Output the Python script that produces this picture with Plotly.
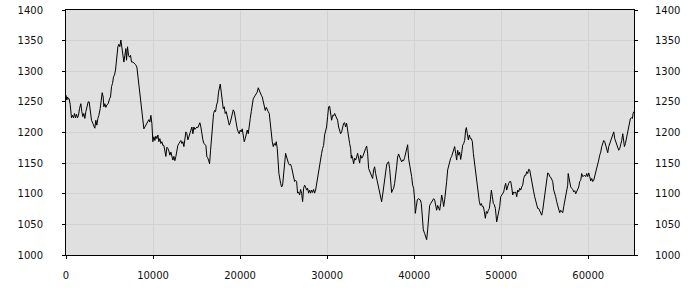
import plotly.graph_objects as go

# ---- data ----
sample_x = [
    0, 96, 173, 249, 364, 479, 632, 747, 862, 977, 1092, 1207, 1322, 1437, 1552, 1705, 1820, 1935, 2050, 2165,
    2280, 2395, 2548, 2663, 2778, 2931, 3084, 3199, 3314, 3429, 3544, 3659, 3774, 3927, 4042, 4157, 4272, 4349,
    4464, 4579, 4694, 4847, 5000, 5115, 5230, 5345, 5460, 5575, 5690, 5766, 5843, 5958, 6073, 6188, 6303, 6418,
    6533, 6648, 6763, 6878, 6954, 7069, 7184, 7299, 7414, 7529, 7682, 7835, 7988,
    8142, 8257, 8372, 8487, 8602, 8717, 8832, 8947, 9062, 9177, 9292, 9406, 9521, 9636, 9751, 9866, 9981, 10096,
    10211, 10326, 10441, 10556, 10671, 10786, 10901, 11016, 11130, 11245, 11360, 11475, 11590, 11705, 11820,
    11935, 12050, 12165, 12280, 12395, 12510, 12625, 12740, 12854, 12969, 13084, 13199, 13314, 13429, 13544,
    13659, 13774, 13889, 14004, 14119, 14234, 14349, 14464, 14578, 14693, 14808, 14923, 15038, 15153, 15268,
    15383, 15498, 15613, 15728, 15843, 15958, 16073, 16188,
    16265, 16380, 16495, 16610, 16725, 16840, 16955, 17070, 17184, 17299, 17414, 17529, 17644, 17721, 17836,
    17951, 18066, 18181, 18295, 18410, 18525, 18640, 18755, 18870, 18985, 19100, 19215, 19330, 19445, 19560,
    19675, 19789, 19904, 20019, 20134, 20249, 20364, 20479, 20594, 20709, 20824, 20939, 21054, 21169, 21284,
    21398, 21513, 21628, 21743, 21858, 21973, 22088, 22203, 22318, 22433, 22548, 22663, 22778, 22893, 23008,
    23123, 23238, 23352, 23467, 23582, 23697, 23812, 23927, 24042, 24157, 24272, 24387, 24463,
    24656, 24771, 24886, 25001, 25116, 25231, 25346, 25461, 25575, 25690, 25805, 25920, 26035, 26150, 26265,
    26380, 26495, 26610, 26725, 26840, 26955, 27070, 27185, 27300, 27414, 27529, 27644, 27759, 27874, 27989,
    28104, 28219, 28334, 28449, 28564, 28679, 28794, 28909, 29024, 29139, 29253, 29368, 29483, 29598, 29713,
    29828, 29943, 30058, 30173, 30288, 30403, 30518, 30633, 30748, 30863, 30978, 31092, 31207, 31322, 31437,
    31552, 31667, 31782, 31897, 32012, 32127, 32242, 32357, 32472, 32587, 32702, 32778,
    32817, 32932, 33047, 33162, 33277, 33392, 33507, 33621, 33736, 33851, 33966, 34081, 34196, 34311, 34426,
    34541, 34656, 34771, 34886, 35001, 35116, 35231, 35346, 35460, 35575, 35690, 35805, 35920, 36035, 36150,
    36265, 36380, 36495, 36610, 36725, 36840, 36954, 37069, 37184, 37299, 37414, 37529, 37644, 37759, 37874,
    37989, 38104, 38219, 38334, 38449, 38564, 38679, 38793, 38908, 39023, 39138, 39253, 39368, 39483, 39598,
    39713, 39828, 39943, 40058, 40134, 40249, 40364, 40479, 40594, 40709, 40824, 40939, 41054,
    41208, 41323, 41438, 41553, 41668, 41783, 41897, 42012, 42127, 42242, 42357, 42472, 42587, 42702, 42817,
    42932, 43047, 43162, 43277, 43392, 43507, 43622, 43736, 43851, 43966, 44081, 44196, 44311, 44426, 44541,
    44656, 44771, 44886, 45001, 45116, 45231, 45346, 45460, 45575, 45690, 45805, 45920, 45997, 46112, 46227,
    46342, 46457, 46572, 46687, 46802, 46917, 47032, 47147, 47262, 47377, 47492, 47606, 47721, 47836, 47951,
    48066, 48181, 48296, 48411, 48526, 48641, 48756, 48871, 48986, 49101, 49216, 49331,
    49484, 49599, 49714, 49829, 49944, 50059, 50174, 50289, 50404, 50518, 50633, 50748, 50863, 50978, 51093,
    51208, 51323, 51438, 51553, 51668, 51783, 51898, 52013, 52127, 52242, 52357, 52472, 52587, 52702, 52817,
    52932, 53047, 53162, 53277, 53392, 53507, 53622, 53737, 53852, 53966, 54081, 54196, 54311, 54426, 54541,
    54656, 54771, 54886, 55001, 55116, 55231, 55346, 55461, 55575, 55690, 55805, 55920, 56035, 56150, 56265,
    56380, 56495, 56610, 56725, 56840, 56955, 57070, 57185, 57300, 57414, 57529, 57644,
    57700, 57760, 57875, 57990, 58105, 58220, 58335, 58450, 58564, 58679, 58794, 58909, 59024, 59139, 59254,
    59369, 59484, 59599, 59714, 59829, 59944, 60059, 60174, 60289, 60403, 60518, 60633, 60748, 60863, 60978,
    61093, 61208, 61323, 61438, 61553, 61668, 61783, 61898, 62013, 62128, 62243, 62357, 62472, 62587, 62702,
    62817, 62932, 63047, 63162, 63277, 63392, 63507, 63622, 63737, 63852, 63967, 64043, 64158, 64273, 64388,
    64503, 64618, 64733, 64848, 64963, 65078, 65154, 65230,
]

sample_y = [
    1261, 1253, 1258, 1255, 1255, 1246, 1224, 1228, 1224, 1231, 1224, 1230, 1224, 1228, 1239, 1247, 1234, 1226, 1231, 1223,
    1234, 1242, 1250, 1250, 1231, 1220, 1215, 1210, 1207, 1220, 1212, 1223, 1228, 1239, 1250, 1265, 1258, 1242,
    1247, 1241, 1245, 1247, 1255, 1258, 1275, 1280, 1291, 1294, 1302, 1313, 1335, 1340, 1344, 1340, 1351, 1337,
    1332, 1315, 1326, 1337, 1318, 1340, 1326, 1323, 1326, 1315, 1315, 1313, 1311,
    1307, 1291, 1274, 1266, 1250, 1234, 1220, 1206, 1209, 1212, 1217, 1220, 1221, 1217, 1228, 1215, 1185, 1193,
    1187, 1194, 1190, 1196, 1185, 1190, 1182, 1185, 1179, 1179, 1171, 1161, 1176, 1174, 1170,
    1163, 1168, 1160, 1155, 1161, 1154, 1161, 1171, 1179, 1182, 1185, 1187, 1182, 1185, 1177,
    1193, 1201, 1198, 1188, 1193, 1198, 1204, 1209, 1198, 1209, 1205, 1207, 1209, 1208, 1212,
    1216, 1209, 1194, 1188, 1182, 1181, 1179, 1160,
    1159, 1155, 1149, 1171, 1193, 1206, 1231, 1236, 1234, 1245, 1250, 1266, 1275, 1279, 1266,
    1250, 1239, 1242, 1231, 1234, 1227, 1220, 1212, 1216, 1223, 1231, 1237, 1234, 1223, 1220,
    1206, 1201, 1198, 1204, 1201, 1206, 1194, 1185, 1190, 1198, 1204, 1198, 1215, 1223, 1234,
    1250, 1255, 1258, 1261, 1264, 1266, 1273, 1268, 1265, 1261, 1258, 1250, 1239, 1236, 1241,
    1236, 1234, 1231, 1212, 1196, 1185, 1177, 1182, 1179, 1185, 1174, 1149, 1133,
    1117, 1111, 1114, 1128, 1144, 1166, 1160, 1152, 1149, 1147, 1148, 1143, 1136, 1125, 1120,
    1122, 1120, 1101, 1103, 1098, 1107, 1101, 1087, 1109, 1114, 1111, 1106, 1109, 1101, 1106,
    1101, 1106, 1102, 1107, 1101, 1106, 1117, 1122, 1139, 1144, 1158, 1166, 1174, 1179, 1196,
    1201, 1209, 1226, 1242, 1243, 1234, 1220, 1228, 1227, 1231, 1228, 1225, 1220, 1209, 1201,
    1198, 1201, 1212, 1215, 1216, 1209, 1215, 1201, 1193, 1182, 1174, 1158,
    1163, 1158, 1149, 1158, 1155, 1160, 1166, 1158, 1150, 1163, 1158, 1160, 1166, 1170, 1174,
    1178, 1166, 1141, 1136, 1133, 1130, 1125, 1139, 1144, 1133, 1125, 1122, 1111, 1101, 1092,
    1087, 1098, 1111, 1128, 1139, 1147, 1151, 1152, 1141, 1111, 1102, 1106, 1109, 1117, 1128,
    1144, 1160, 1165, 1160, 1155, 1152, 1155, 1154, 1159, 1168, 1177, 1180, 1157, 1149, 1139,
    1128, 1114, 1109, 1090, 1068, 1079, 1090, 1092, 1091, 1090, 1084, 1054, 1041,
    1035, 1027, 1025, 1041, 1057, 1081, 1084, 1087, 1089, 1092, 1090, 1081, 1073, 1081, 1076,
    1073, 1084, 1098, 1090, 1079, 1090, 1103, 1120, 1139, 1147, 1151, 1158, 1161, 1166, 1171,
    1177, 1166, 1155, 1171, 1163, 1168, 1156, 1166, 1179, 1182, 1187, 1204, 1208, 1198, 1188,
    1196, 1190, 1190, 1185, 1166, 1152, 1139, 1128, 1117, 1101, 1087, 1081, 1084, 1079, 1079,
    1071, 1060, 1071, 1068, 1073, 1076, 1090, 1106, 1095, 1084, 1082, 1076,
    1054, 1062, 1065, 1079, 1095, 1098, 1101, 1103, 1111, 1117, 1106, 1114, 1117, 1120, 1120,
    1111, 1098, 1103, 1101, 1103, 1095, 1106, 1103, 1109, 1106, 1111, 1114, 1125, 1130, 1130,
    1136, 1133, 1140, 1139, 1128, 1120, 1111, 1103, 1095, 1087, 1079, 1076, 1076, 1073, 1069,
    1065, 1073, 1084, 1098, 1111, 1125, 1134, 1133, 1128, 1127, 1122, 1120, 1106, 1101, 1095,
    1087, 1079, 1073, 1069, 1073, 1071, 1069, 1079, 1087, 1092, 1101, 1114,
    1133, 1128, 1117, 1111, 1109, 1107, 1103, 1105, 1100, 1103, 1106, 1111, 1120, 1122, 1133,
    1128, 1129, 1130, 1128, 1133, 1128, 1134, 1128, 1121, 1125, 1120, 1122, 1128, 1133, 1139,
    1149, 1155, 1163, 1168, 1177, 1182, 1187, 1185, 1177, 1171, 1167, 1177, 1182, 1187, 1193,
    1198, 1201, 1190, 1185, 1182, 1174, 1171, 1174, 1179, 1187, 1198, 1183, 1177, 1182, 1190,
    1198, 1207, 1215, 1223, 1224, 1223, 1231, 1234,
]

x_ticks = [0, 10000, 20000, 30000, 40000, 50000, 60000]
y_ticks = [1000, 1050, 1100, 1150, 1200, 1250, 1300, 1350, 1400]
x_range = [0, 65260]
y_range = [1000, 1400]

# ---- figure ----
fig = go.Figure()
fig.add_trace(go.Scatter(
    x=sample_x, y=sample_y, mode="lines",
    line=dict(color="#000000", width=1),
    showlegend=False, hoverinfo="skip",
))
# empty trace so the right-hand y axis is drawn
fig.add_trace(go.Scatter(x=[None], y=[None], yaxis="y2", showlegend=False, hoverinfo="skip"))

tick_font = dict(family="DejaVu Sans, Verdana, sans-serif", size=10, color="#111111")

fig.update_layout(
    width=700, height=300,
    margin=dict(l=66, r=66, t=10, b=45, autoexpand=False),
    paper_bgcolor="#ffffff",
    plot_bgcolor="#e0e0e0",
    font=tick_font,
    xaxis=dict(
        range=x_range, tickmode="array", tickvals=x_ticks,
        ticktext=[str(v) for v in x_ticks],
        showgrid=True, gridcolor="#d2d2d2", gridwidth=1,
        zeroline=False, automargin=False,
        showline=True, linecolor="#000000", linewidth=1, mirror=True,
        ticks="outside", ticklen=3, tickcolor="#000000", tickwidth=1,
        tickfont=tick_font, ticklabelstandoff=8,
    ),
    yaxis=dict(
        range=y_range, tickmode="array", tickvals=y_ticks,
        ticktext=[str(v) for v in y_ticks],
        showgrid=True, gridcolor="#d2d2d2", gridwidth=1,
        zeroline=False, automargin=False,
        showline=True, linecolor="#000000", linewidth=1, mirror=True,
        ticks="outside", ticklen=3, tickcolor="#000000", tickwidth=1,
        tickfont=tick_font, ticklabelstandoff=17,
    ),
    yaxis2=dict(
        range=y_range, tickmode="array", tickvals=y_ticks,
        ticktext=[str(v) for v in y_ticks],
        overlaying="y", side="right", automargin=False,
        showgrid=False, zeroline=False,
        showline=True, linecolor="#000000", linewidth=1,
        ticks="outside", ticklen=3, tickcolor="#000000", tickwidth=1,
        tickfont=tick_font, ticklabelstandoff=15,
    ),
)

fig.write_html("out.html", config={"displayModeBar": False})
